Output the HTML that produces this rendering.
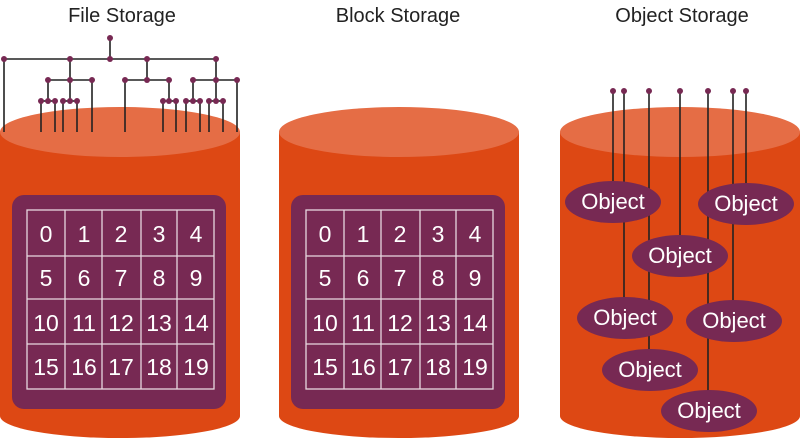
<!DOCTYPE html>
<html><head><style>body{margin:0;background:#fff}svg{display:block}</style></head><body>
<svg width="800" height="441" viewBox="0 0 800 441" xmlns="http://www.w3.org/2000/svg" font-family="Liberation Sans, sans-serif">
<defs>
<g id="cyl">
<path d="M0 132 L0 416 A120 22 0 0 0 240 416 L240 132 Z" fill="#dd4814"/>
<ellipse cx="120" cy="132" rx="120" ry="25" fill="#e56d45"/>
</g>
<g id="grid">
<rect x="12" y="195" width="214" height="214" rx="12" fill="#772953"/>
<g stroke="#e8d8e0" stroke-width="1.3" fill="none">
<rect x="27" y="210" width="187" height="179"/>
<line x1="65" y1="210" x2="65" y2="389"/><line x1="102" y1="210" x2="102" y2="389"/>
<line x1="141" y1="210" x2="141" y2="389"/><line x1="177" y1="210" x2="177" y2="389"/>
<line x1="27" y1="256" x2="214" y2="256"/><line x1="27" y1="299" x2="214" y2="299"/><line x1="27" y1="344" x2="214" y2="344"/>
</g>
<g fill="#fff" font-size="23" text-anchor="middle">
<text x="46" y="242">0</text><text x="84" y="242">1</text><text x="121" y="242">2</text><text x="159" y="242">3</text><text x="196" y="242">4</text>
<text x="46" y="286">5</text><text x="84" y="286">6</text><text x="121" y="286">7</text><text x="159" y="286">8</text><text x="196" y="286">9</text>
<text x="46" y="331">10</text><text x="84" y="331">11</text><text x="121" y="331">12</text><text x="159" y="331">13</text><text x="196" y="331">14</text>
<text x="46" y="375">15</text><text x="84" y="375">16</text><text x="121" y="375">17</text><text x="159" y="375">18</text><text x="196" y="375">19</text>
</g>
</g>
</defs>
<g font-size="20" fill="#222" text-anchor="middle">
<text x="122" y="22">File Storage</text><text x="398" y="22">Block Storage</text><text x="682" y="22">Object Storage</text>
</g>
<use href="#cyl" x="0"/><use href="#grid" x="0"/>
<use href="#cyl" x="279"/><use href="#grid" x="279"/>
<use href="#cyl" x="560"/>
<g stroke="#222" stroke-width="1.6">
<line x1="110" y1="38" x2="110" y2="59"/>
<line x1="4" y1="59" x2="216" y2="59"/>
<line x1="4" y1="59" x2="4" y2="132"/>
<line x1="70" y1="59" x2="70" y2="101"/><line x1="147" y1="59" x2="147" y2="80"/><line x1="216" y1="59" x2="216" y2="101"/>
<line x1="48" y1="80" x2="92" y2="80"/><line x1="125" y1="80" x2="169" y2="80"/><line x1="193" y1="80" x2="237" y2="80"/>
<line x1="48" y1="80" x2="48" y2="101"/><line x1="169" y1="80" x2="169" y2="101"/><line x1="193" y1="80" x2="193" y2="101"/>
<line x1="92" y1="80" x2="92" y2="132"/><line x1="125" y1="80" x2="125" y2="132"/><line x1="237" y1="80" x2="237" y2="132"/>
<line x1="41" y1="101" x2="55" y2="101"/><line x1="63" y1="101" x2="77" y2="101"/><line x1="163" y1="101" x2="176" y2="101"/><line x1="186" y1="101" x2="200" y2="101"/><line x1="209" y1="101" x2="223" y2="101"/>
<line x1="41" y1="101" x2="41" y2="132"/><line x1="55" y1="101" x2="55" y2="132"/><line x1="63" y1="101" x2="63" y2="132"/><line x1="77" y1="101" x2="77" y2="132"/>
<line x1="163" y1="101" x2="163" y2="132"/><line x1="176" y1="101" x2="176" y2="132"/><line x1="186" y1="101" x2="186" y2="132"/><line x1="200" y1="101" x2="200" y2="132"/><line x1="209" y1="101" x2="209" y2="132"/><line x1="223" y1="101" x2="223" y2="132"/>
</g>
<g fill="#772953">
<circle cx="110" cy="38" r="3"/>
<circle cx="4" cy="59" r="3"/><circle cx="70" cy="59" r="3"/><circle cx="110" cy="59" r="3"/><circle cx="147" cy="59" r="3"/><circle cx="216" cy="59" r="3"/>
<circle cx="48" cy="80" r="3"/><circle cx="70" cy="80" r="3"/><circle cx="92" cy="80" r="3"/><circle cx="125" cy="80" r="3"/><circle cx="147" cy="80" r="3"/><circle cx="169" cy="80" r="3"/><circle cx="193" cy="80" r="3"/><circle cx="216" cy="80" r="3"/><circle cx="237" cy="80" r="3"/>
<circle cx="41" cy="101" r="3"/><circle cx="48" cy="101" r="3"/><circle cx="55" cy="101" r="3"/><circle cx="63" cy="101" r="3"/><circle cx="70" cy="101" r="3"/><circle cx="77" cy="101" r="3"/>
<circle cx="163" cy="101" r="3"/><circle cx="169" cy="101" r="3"/><circle cx="176" cy="101" r="3"/><circle cx="186" cy="101" r="3"/><circle cx="193" cy="101" r="3"/><circle cx="200" cy="101" r="3"/><circle cx="209" cy="101" r="3"/><circle cx="216" cy="101" r="3"/><circle cx="223" cy="101" r="3"/>
</g>
<g stroke="#222" stroke-width="1.6">
<line x1="613" y1="91" x2="613" y2="190"/><line x1="624" y1="91" x2="624" y2="305"/><line x1="649" y1="91" x2="649" y2="358"/>
<line x1="680" y1="91" x2="680" y2="245"/><line x1="708" y1="91" x2="708" y2="400"/><line x1="733" y1="91" x2="733" y2="310"/><line x1="746" y1="91" x2="746" y2="190"/>
</g>
<g fill="#772953">
<circle cx="613" cy="91" r="3"/><circle cx="624" cy="91" r="3"/><circle cx="649" cy="91" r="3"/><circle cx="680" cy="91" r="3"/><circle cx="708" cy="91" r="3"/><circle cx="733" cy="91" r="3"/><circle cx="746" cy="91" r="3"/>
<ellipse cx="613" cy="202" rx="48" ry="21"/><ellipse cx="746" cy="204" rx="48" ry="21"/><ellipse cx="680" cy="256" rx="48" ry="21"/>
<ellipse cx="625" cy="318" rx="48" ry="21"/><ellipse cx="734" cy="321" rx="48" ry="21"/><ellipse cx="650" cy="370" rx="48" ry="21"/><ellipse cx="709" cy="411" rx="48" ry="21"/>
</g>
<g fill="#fff" font-size="22" text-anchor="middle">
<text x="613" y="209">Object</text><text x="746" y="211">Object</text><text x="680" y="263">Object</text>
<text x="625" y="325">Object</text><text x="734" y="328">Object</text><text x="650" y="377">Object</text><text x="709" y="418">Object</text>
</g>
</svg>
</body></html>
